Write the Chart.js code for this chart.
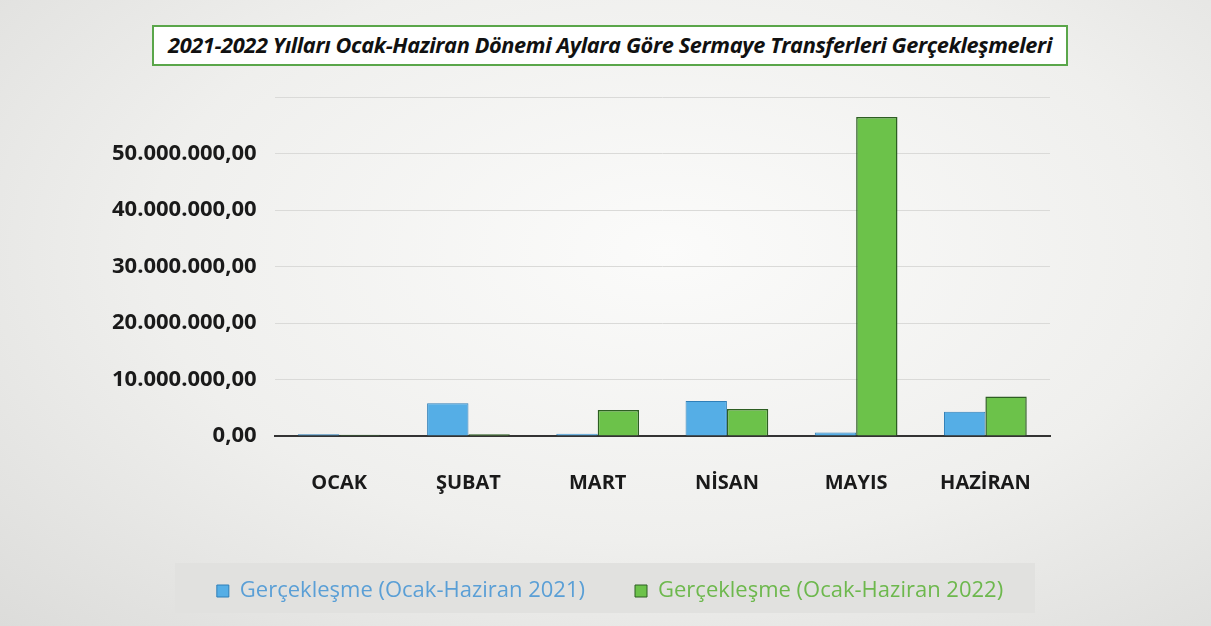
<!DOCTYPE html>
<html lang="tr">
<head>
<meta charset="UTF-8" />
<title>Sermaye Transferleri</title>
<script src="https://cdn.jsdelivr.net/npm/chart.js"></script>
<style>
  body {
    margin: 0;
    width: 1211px;
    height: 626px;
    overflow: hidden;
    background: radial-gradient(ellipse at 55% 40%, #fbfbfa 0%, #efefed 55%, #dcdcda 100%);
    font-family: 'Open Sans', 'Noto Sans', sans-serif;
    position: relative;
  }
  #baslik {
    position: absolute;
    left: 152px;
    top: 25px;
    width: 916px;
    height: 41px;
    border: 2px solid #5aa64a;
    background: #fff;
    box-sizing: border-box;
    text-align: center;
    font-style: italic;
    font-weight: bold;
    font-size: 21.8px;
    line-height: 36px;
    color: #111;
    letter-spacing: -0.4px;
    z-index: 2;
  }
  #bant {
    position: absolute;
    left: 175px;
    top: 563px;
    width: 860px;
    height: 50px;
    background: #e1e1df;
  }
  .grafik {
    position: absolute;
    left: 0;
    top: 66px;
    width: 1211px;
    height: 554px;
  }
</style>
</head>
<body>
  <div id="bant"></div>
  <div id="baslik">2021-2022 Yılları Ocak-Haziran Dönemi Aylara Göre Sermaye Transferleri Gerçekleşmeleri</div>
  <div class="grafik"><canvas id="grafik_sermaye"></canvas></div>

<script>
  const aylar = ['OCAK', 'ŞUBAT', 'MART', 'NİSAN', 'MAYIS', 'HAZİRAN'];
  const gerceklesme2021 = [300000, 5800000, 400000, 6200000, 600000, 4300000];
  const gerceklesme2022 = [200000, 300000, 4600000, 4800000, 56500000, 7000000];
  const seriAdlari = ['Gerçekleşme (Ocak-Haziran 2021)', 'Gerçekleşme (Ocak-Haziran 2022)'];

  function trBicim(v) {
    // 50000000 -> 50.000.000,00
    const s = Math.round(v).toString().replace(/\B(?=(\d{3})+(?!\d))/g, '.');
    return s + ',00';
  }

  const renkler = [
    { dolgu: '#55aee6', kenar: '#2f7fb8', yazi: '#5a9fd6' },
    { dolgu: '#6cc24a', kenar: '#2d5e22', yazi: '#6db84d' }
  ];

  // lejant biraz sağda duruyor, kaydır
  const lejantKaydir = {
    id: 'lejantKaydir',
    afterLayout(chart) {
      chart.legend.left += 38;
      chart.legend.right += 38;
    }
  };

  const dados = {
    labels: aylar,
    datasets: [
      {
        label: seriAdlari[0],
        data: gerceklesme2021,
        backgroundColor: renkler[0].dolgu,
        borderColor: renkler[0].kenar,
        borderWidth: 1,
        categoryPercentage: 0.64,
        barPercentage: 1.0
      },
      {
        label: seriAdlari[1],
        data: gerceklesme2022,
        backgroundColor: renkler[1].dolgu,
        borderColor: renkler[1].kenar,
        borderWidth: 1.5,
        categoryPercentage: 0.64,
        barPercentage: 1.0
      }
    ]
  };

  const config = {
    type: 'bar',
    data: dados,
    plugins: [lejantKaydir],
    options: {
      responsive: true,
      maintainAspectRatio: false,
      animation: false,
      layout: { padding: { left: 94, right: 161, top: 0, bottom: 8 } },
      plugins: {
        tooltip: { enabled: false },
        legend: {
          position: 'bottom',
          labels: {
            boxWidth: 12,
            boxHeight: 12,
            padding: 50,
            font: { family: "'Open Sans', sans-serif", size: 22 },
            generateLabels: (chart) => chart.data.datasets.map((ds, i) => ({
              text: ds.label,
              fillStyle: ds.backgroundColor,
              strokeStyle: ds.borderColor,
              lineWidth: 1,
              fontColor: renkler[i].yazi,
              datasetIndex: i,
              hidden: false
            }))
          }
        }
      },
      scales: {
        x: {
          grid: { display: false, drawTicks: false },
          border: { color: '#333', width: 2 },
          ticks: {
            color: '#1a1a1a',
            padding: 35,
            font: { family: "'Open Sans', sans-serif", size: 20, weight: 'bold' }
          }
        },
        y: {
          min: 0,
          max: 60000000,
          grid: { color: '#dadad8', lineWidth: 1, drawTicks: false },
          border: { display: false },
          ticks: {
            stepSize: 10000000,
            padding: 18,
            color: '#1a1a1a',
            font: { family: "'Open Sans', sans-serif", size: 22, weight: 'bold' },
            callback: (v) => v > 50000000 ? '' : trBicim(v)
          }
        }
      }
    }
  };

  const ctx = document.getElementById('grafik_sermaye').getContext('2d');
  const grafik = new Chart(ctx, config);
</script>
</body>
</html>
